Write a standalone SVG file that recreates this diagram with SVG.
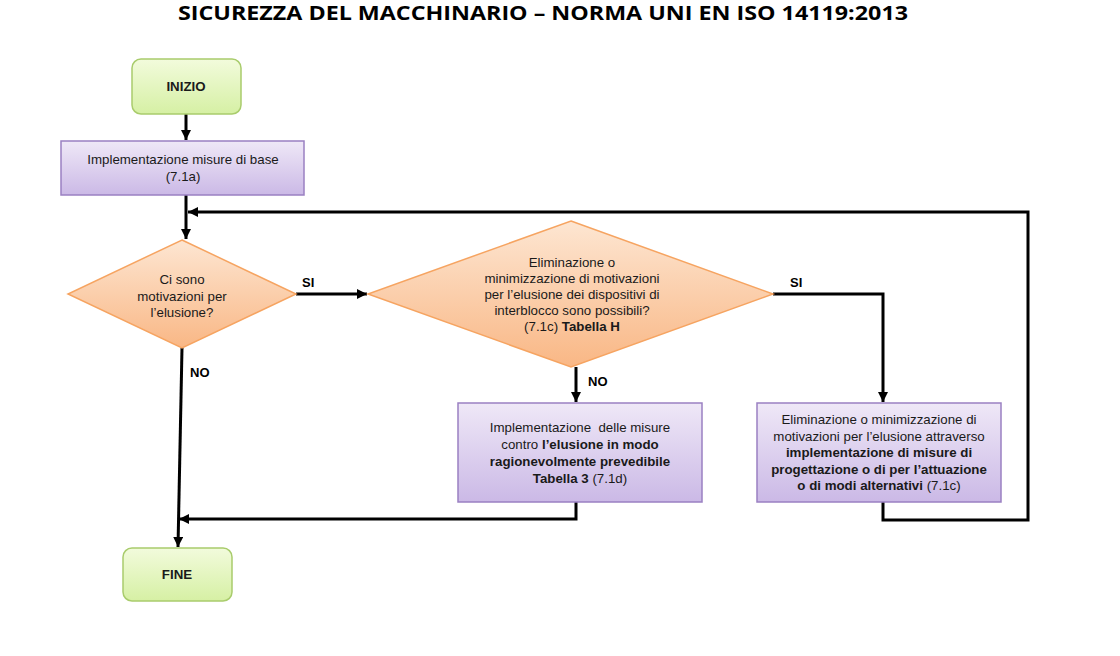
<svg xmlns="http://www.w3.org/2000/svg" width="1120" height="656" viewBox="0 0 1120 656">
<defs>
<linearGradient id="gGreen" x1="0" y1="0" x2="0" y2="1"><stop offset="0" stop-color="#f2fbdc"/><stop offset="1" stop-color="#d6f0a4"/></linearGradient>
<linearGradient id="gPurple" x1="0" y1="0" x2="0" y2="1"><stop offset="0" stop-color="#efe8f7"/><stop offset="1" stop-color="#cbb9e6"/></linearGradient>
<linearGradient id="gOrange" x1="0" y1="0" x2="0" y2="1"><stop offset="0" stop-color="#fde6d2"/><stop offset="1" stop-color="#f9b785"/></linearGradient>
<marker id="arr" viewBox="0 0 10 10" refX="10" refY="5" markerWidth="10" markerHeight="10" markerUnits="userSpaceOnUse" orient="auto"><path d="M0,0 L10,5 L0,10 z" fill="#000"/></marker>
<style>
.term{fill:url(#gGreen);stroke:#a9cc6c;stroke-width:1.5}
.proc{fill:url(#gPurple);stroke:#9a80c2;stroke-width:1.5}
.dec{fill:url(#gOrange);stroke:#f6a461;stroke-width:1.5}
.t{font-family:"Liberation Sans",Arial,sans-serif;font-size:13.3px;fill:#1a1a1a;text-anchor:middle}
.b{font-weight:bold}
.lab{font-family:"Liberation Sans",Arial,sans-serif;font-size:13px;font-weight:bold;fill:#000}
.c{fill:none;stroke:#000;stroke-width:3}
</style>
</defs>
<rect width="1120" height="656" fill="#fff"/>
<text x="543" y="20" font-family="'Open Sans','Liberation Sans',sans-serif" font-size="20" font-weight="bold" text-anchor="middle" textLength="730" lengthAdjust="spacingAndGlyphs" fill="#000">SICUREZZA DEL MACCHINARIO – NORMA UNI EN ISO 14119:2013</text>

<g id="connectors">
<path class="c" d="M186,114 V140" marker-end="url(#arr)"/>
<path class="c" d="M186,195 V239" marker-end="url(#arr)"/>
<path class="c" d="M296,294 H367" marker-end="url(#arr)"/>
<path class="c" d="M773,294 H883 V402" marker-end="url(#arr)"/>
<path class="c" d="M576,367 V402" marker-end="url(#arr)"/>
<path class="c" d="M883,502 V520 H1028 V212 H188" marker-end="url(#arr)"/>
<path class="c" d="M576,502 V519 H179" marker-end="url(#arr)"/>
<path class="c" d="M182,348 L178,547" marker-end="url(#arr)"/>
<text class="lab" x="302" y="287">SI</text>
<text class="lab" x="790" y="287">SI</text>
<text class="lab" x="190" y="377">NO</text>
<text class="lab" x="588" y="386">NO</text>
</g>

<g id="inizio">
<rect class="term" x="132" y="59" width="109" height="55" rx="9"/>
<text class="t b" x="186" y="91">INIZIO</text>
</g>

<g id="base">
<rect class="proc" x="61" y="141" width="243" height="54"/>
<text class="t" x="183" y="164">Implementazione misure di base</text>
<text class="t" x="183" y="181">(7.1a)</text>
</g>

<g id="dec1">
<polygon class="dec" points="182,240 296,294 182,348 68,294"/>
<text class="t" x="182" y="284">Ci sono</text>
<text class="t" x="182" y="301">motivazioni per</text>
<text class="t" x="182" y="317">l’elusione?</text>
</g>

<g id="dec2">
<polygon class="dec" points="571,221 773,294 571,367 368,294"/>
<text class="t" x="572" y="267">Eliminazione o</text>
<text class="t" x="572" y="283">minimizzazione di motivazioni</text>
<text class="t" x="572" y="299">per l’elusione dei dispositivi di</text>
<text class="t" x="572" y="315">interblocco sono possibili?</text>
<text class="t" x="572" y="331">(7.1c) <tspan class="b">Tabella H</tspan></text>
</g>

<g id="misure">
<rect class="proc" x="458" y="403" width="244" height="99"/>
<text class="t" x="580" y="432" style="white-space:pre">Implementazione  delle misure</text>
<text class="t" x="580" y="449">contro <tspan class="b">l’elusione in modo</tspan></text>
<text class="t b" x="580" y="466">ragionevolmente prevedibile</text>
<text class="t" x="580" y="483"><tspan class="b">Tabella 3</tspan> (7.1d)</text>
</g>

<g id="eliminazione">
<rect class="proc" x="757" y="403" width="244" height="99"/>
<text class="t" x="879" y="424">Eliminazione o minimizzazione di</text>
<text class="t" x="879" y="441">motivazioni per l’elusione attraverso</text>
<text class="t b" x="879" y="457">implementazione di misure di</text>
<text class="t b" x="879" y="474">progettazione o di per l’attuazione</text>
<text class="t" x="879" y="490"><tspan class="b">o di modi alternativi</tspan> (7.1c)</text>
</g>

<g id="fine">
<rect class="term" x="123" y="548" width="109" height="53" rx="9"/>
<text class="t b" x="177" y="579">FINE</text>
</g>
</svg>
